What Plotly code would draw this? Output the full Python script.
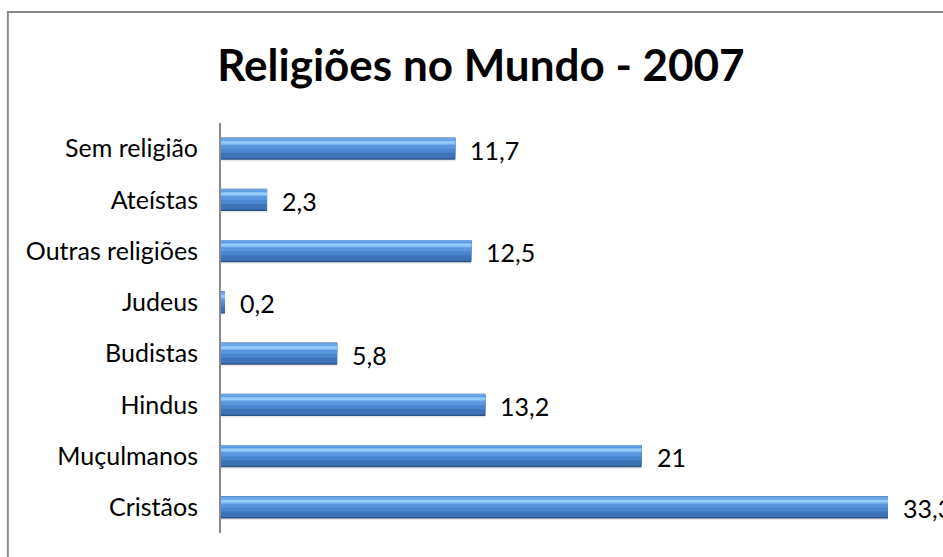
import plotly.graph_objects as go

# Data (bottom to top)
categories = ["Cristãos", "Muçulmanos", "Hindus", "Budistas", "Judeus",
              "Outras religiões", "Ateístas", "Sem religião"]
values = [33.3, 21, 13.2, 5.8, 0.2, 12.5, 2.3, 11.7]
labels = ["33,3", "21", "13,2", "5,8", "0,2", "12,5", "2,3", "11,7"]

W = 0.43  # bar thickness in category units
H = W / 2
fig = go.Figure()

# layered bars to imitate the bevelled gradient look
layers = [
    # (offset from center, width, color)
    (-H - 0.03, W + 0.01, "rgba(110,110,110,0.16)"),  # soft shadow
    (-H, W, "#2d5489"),             # dark outline / bottom edge
    (-H + 0.025, W - 0.035, "#3d72b6"),
    (-0.08, H + 0.07, "#4886ce"),
    (0.0, H - 0.01, "#5a96dc"),
    (0.07, 0.09, "#77b2ed"),
    (0.095, 0.05, "#96caf7"),
    (H - 0.035, 0.025, "#6aa6e7"),
]
for off, w, col in layers:
    fig.add_trace(go.Bar(
        y=categories, x=values, orientation="h",
        width=w, offset=off,
        marker=dict(color=col, line=dict(width=0)),
        hoverinfo="skip", showlegend=False,
    ))

for cat, v, lab in zip(categories, values, labels):
    fig.add_annotation(
        x=v, y=cat, text=lab, xanchor="left", yanchor="middle",
        xshift=13, yshift=-1, showarrow=False,
        font=dict(family="Lato, Open Sans, sans-serif", size=25, color="#000"),
    )

# chart-area border (extends past the right/bottom edge like the reference)
fig.add_shape(type="rect", xref="paper", yref="paper",
              x0=-0.3015, x1=1.04, y0=-0.1, y1=1.2707,
              line=dict(color="#8a8a8a", width=2), fillcolor="rgba(0,0,0,0)",
              layer="below")

fig.update_layout(
    width=943, height=557,
    margin=dict(l=221, r=15, t=123, b=24),
    paper_bgcolor="white", plot_bgcolor="white",
    barmode="overlay",
    title=dict(text="<b>Religiões no Mundo - 2007</b>",
               x=0.51, xanchor="center", y=0.882, yanchor="middle",
               font=dict(family="Lato, Open Sans, sans-serif", size=44, color="#000")),
    xaxis=dict(range=[0, 35.3], visible=False, showgrid=False, zeroline=False),
    yaxis=dict(showline=True, linecolor="#8a8a8a", linewidth=2,
               showgrid=False, zeroline=False, ticks="", ticklabelstandoff=16,
               tickfont=dict(family="Lato, Open Sans, sans-serif", size=25, color="#000"),
               categoryorder="array", categoryarray=categories),
    font=dict(family="Lato, Open Sans, sans-serif"),
)

fig.write_html("out.html")
